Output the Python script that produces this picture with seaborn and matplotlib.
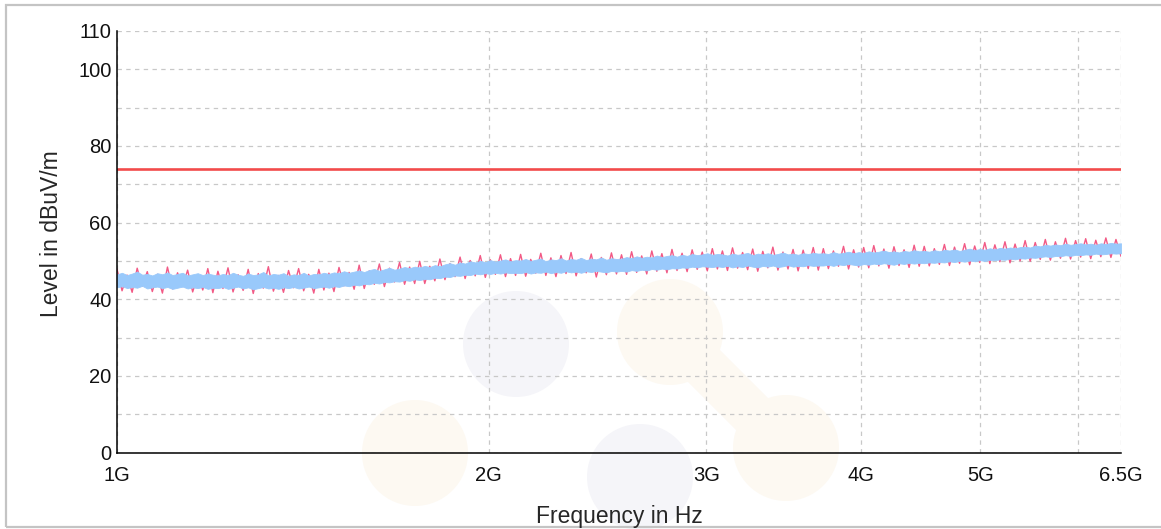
import numpy as np
import pandas as pd
import seaborn as sns
import matplotlib.pyplot as plt
import matplotlib.patches as mpatches
from matplotlib.transforms import IdentityTransform

# Receiver sweep: log spaced bins from 1 GHz to 6.5 GHz
N_BINS = 200
F_START = 1e9
F_STOP = 6.5e9

# Limit line (dBuV/m)
LIMIT_LEVEL = 74

# Average trace (blue band): upper and lower edge per bin
AVG_HI = [
    46.5, 46.9, 46.3, 46.7, 47.2, 46.4, 46.6, 46.2, 46.8, 46.5, 47.0, 46.3, 46.6, 46.9, 46.2, 46.5, 46.8, 46.3, 46.7, 46.4,
    46.2, 46.6, 46.3, 46.9, 46.4, 46.1, 46.7, 46.3, 46.5, 47.1, 46.2, 46.6, 46.4, 46.8, 46.1, 46.5, 46.3, 46.9, 46.2, 46.6,
    46.5, 46.9, 46.6, 47.0, 46.8, 47.3, 46.9, 47.2, 47.5, 47.1, 47.6, 47.9, 47.4, 47.8, 48.2, 47.7, 48.0, 48.4, 48.1, 48.5,
    48.3, 48.7, 48.4, 48.9, 48.6, 49.1, 49.4, 49.0, 49.6, 49.3, 49.9, 49.6, 50.0, 49.7, 50.2, 49.8, 50.1, 50.4, 49.9, 50.2,
    50.1, 50.5, 50.0, 50.3, 50.6, 49.9, 50.4, 50.2, 50.7, 50.1, 50.5, 50.3, 50.8, 50.2, 50.6, 50.4, 50.9, 50.3, 50.7, 50.5,
    50.6, 51.0, 50.7, 51.2, 50.8, 51.1, 50.9, 51.4, 51.0, 51.3, 51.5, 51.1, 51.6, 51.3, 51.8, 51.5, 51.7, 52.0, 51.6, 51.8,
    51.7, 51.4, 51.9, 51.6, 51.8, 52.1, 51.5, 51.9, 51.7, 52.0, 51.6, 51.8, 52.2, 51.7, 51.9, 51.6, 52.0, 51.8, 52.1, 51.9,
    52.0, 51.8, 52.3, 51.9, 52.1, 52.4, 52.0, 52.3, 52.1, 52.5, 52.2, 52.4, 52.7, 52.3, 52.5, 52.2, 52.6, 52.4, 52.8, 52.5,
    52.6, 52.4, 52.8, 52.5, 52.9, 52.7, 53.0, 52.6, 52.9, 53.2, 52.8, 53.1, 52.9, 53.3, 53.0, 53.4, 53.2, 53.5, 53.3, 53.6,
    53.7, 53.5, 54.0, 53.8, 54.2, 54.0, 54.3, 54.1, 54.5, 54.2, 54.4, 54.6, 54.3, 54.5, 54.2, 54.6, 54.4, 54.7, 54.5, 54.6,
]
AVG_LO = [
    43.1, 43.4, 42.9, 43.2, 43.0, 43.5, 42.8, 43.1, 43.3, 42.9, 43.2, 42.7, 43.0, 43.3, 42.8, 43.1, 42.9, 43.2, 42.7, 43.0,
    42.9, 43.2, 42.7, 43.0, 43.3, 42.8, 43.1, 42.6, 42.9, 43.2, 42.8, 43.0, 42.7, 43.1, 42.9, 43.2, 42.8, 43.0, 43.3, 42.9,
    43.1, 43.3, 43.0, 43.4, 43.2, 43.6, 43.4, 43.8, 43.6, 44.0, 43.9, 44.3, 44.1, 44.5, 44.4, 44.7, 44.6, 45.0, 44.8, 45.2,
    45.0, 45.3, 45.2, 45.6, 45.5, 45.9, 45.8, 46.2, 46.1, 46.4, 46.3, 46.7, 46.5, 46.8, 46.6, 46.9, 46.7, 47.0, 46.8, 46.9,
    46.8, 47.1, 46.7, 47.0, 46.9, 47.2, 46.8, 47.1, 46.9, 47.3, 47.0, 47.2, 46.9, 47.3, 47.1, 47.4, 47.2, 47.0, 47.4, 47.2,
    47.4, 47.2, 47.6, 47.4, 47.7, 47.5, 47.9, 47.7, 48.0, 47.8, 48.1, 48.0, 48.3, 48.2, 48.5, 48.3, 48.6, 48.5, 48.4, 48.6,
    48.4, 48.7, 48.3, 48.6, 48.4, 48.8, 48.5, 48.3, 48.7, 48.5, 48.8, 48.4, 48.6, 48.9, 48.5, 48.7, 48.6, 48.9, 48.7, 48.8,
    48.8, 49.0, 48.7, 49.1, 48.9, 49.2, 49.0, 48.8, 49.2, 49.0, 49.3, 49.1, 49.4, 49.2, 49.0, 49.4, 49.2, 49.5, 49.3, 49.5,
    49.4, 49.6, 49.5, 49.7, 49.6, 49.9, 49.7, 50.0, 49.8, 50.1, 49.9, 50.2, 50.0, 50.3, 50.2, 50.4, 50.3, 50.6, 50.4, 50.7,
    50.6, 50.9, 50.8, 51.0, 51.2, 51.0, 51.3, 51.2, 51.5, 51.3, 51.6, 51.5, 51.7, 51.6, 51.9, 51.7, 51.8, 52.0, 51.9, 52.0,
]

# Max peak trace (pink), one reading per bin
PEAK_LEVEL = [
    47.9, 42.2, 46.3, 41.8, 48.1, 43.4, 47.2, 42.0, 46.5, 41.6, 48.4, 42.7, 46.9, 43.3, 47.6, 41.9, 46.2, 42.4, 48.0, 41.7,
    47.3, 42.8, 48.2, 41.9, 46.4, 42.3, 47.8, 41.5, 46.7, 42.9, 48.5, 42.1, 46.2, 41.8, 47.5, 43.0, 48.0, 42.2, 46.5, 41.6,
    47.8, 42.4, 46.8, 42.0, 48.3, 43.5, 47.0, 42.6, 48.9, 42.8, 47.4, 43.9, 49.2, 43.3, 48.1, 44.5, 49.6, 43.9, 48.4, 44.1,
    49.9, 44.1, 48.6, 44.8, 50.5, 45.1, 49.3, 45.9, 51.0, 45.4, 50.1, 46.1, 51.4, 45.7, 50.3, 46.5, 51.6, 45.9, 50.6, 46.2,
    51.7, 46.0, 50.4, 46.8, 52.0, 46.2, 50.8, 45.9, 51.4, 46.7, 52.2, 46.1, 50.6, 46.9, 51.8, 45.8, 50.9, 46.4, 52.1, 46.6,
    51.6, 46.5, 52.4, 47.0, 51.3, 46.6, 52.6, 47.3, 51.9, 46.9, 53.0, 47.5, 52.0, 47.2, 52.9, 47.8, 52.3, 47.4, 53.2, 47.9,
    52.6, 47.5, 53.4, 48.1, 52.2, 47.7, 53.1, 47.3, 52.5, 48.2, 53.6, 47.6, 52.3, 47.9, 53.0, 47.4, 52.8, 48.0, 53.5, 47.6,
    53.2, 48.0, 52.6, 48.6, 53.8, 47.9, 52.9, 48.4, 53.5, 48.2, 54.0, 48.7, 53.1, 48.1, 53.7, 48.8, 52.9, 48.3, 54.1, 48.6,
    53.8, 48.7, 53.2, 49.1, 54.3, 48.8, 53.6, 49.4, 54.5, 49.0, 53.9, 49.6, 54.8, 49.3, 54.2, 49.8, 55.0, 49.5, 54.4, 50.0,
    55.3, 49.9, 54.8, 50.4, 55.6, 50.2, 55.0, 50.7, 55.9, 50.5, 55.3, 51.0, 55.8, 50.6, 55.4, 51.1, 56.0, 50.9, 55.6, 51.2,
]

# Axis ticks
X_TICKS = [1e9, 2e9, 3e9, 4e9, 5e9, 6e9, 6.5e9]
X_TICK_LABELS = ["1G", "2G", "3G", "4G", "5G", "", "6.5G"]
Y_TICKS = list(range(0, 111, 10))
Y_TICK_LABELS = ["0", "", "20", "", "40", "", "60", "", "80", "", "100", "110"]

freq = np.geomspace(F_START, F_STOP, N_BINS)
df = pd.DataFrame({"Frequency": freq, "Peak": PEAK_LEVEL, "AvgHi": AVG_HI, "AvgLo": AVG_LO})
limit_df = pd.DataFrame({"Frequency": [F_START, F_STOP], "Limit": [LIMIT_LEVEL, LIMIT_LEVEL]})

sns.set_style("white")
plt.rcParams["font.family"] = ["Liberation Sans", "DejaVu Sans"]

W, H = 1161, 529
fig = plt.figure(figsize=(W / 100, H / 100), dpi=100)
ax = fig.add_axes([117 / W, 1 - 452.5 / H, (1121 - 117) / W, (452.5 - 31) / H])
ax.set_facecolor("none")

# faint logo watermark behind the plot (pixel positions from the top-left)
wm_lav = "#f5f5f9"
wm_org = "#fdf9f2"
px = IdentityTransform()
for (cx, cy, col) in [(516, 344, wm_lav), (415, 453, wm_org), (640, 477, wm_lav),
                      (670, 332, wm_org), (786, 448, wm_org)]:
    fig.patches.append(mpatches.Circle((cx, H - cy), 53, transform=px,
                                       facecolor=col, edgecolor="none", zorder=-5))
fig.patches.append(mpatches.Polygon([(686, H - 316), (802, H - 432), (770, H - 464), (654, H - 348)],
                                    closed=True, transform=px, facecolor=wm_org,
                                    edgecolor="none", zorder=-5))
# figure frame
fig.patches.append(mpatches.Rectangle((6, 2), W + 10, H - 7, transform=px, fill=False,
                                      edgecolor="#c4c4c4", linewidth=1.6, zorder=-4))

sns.lineplot(data=df, x="Frequency", y="Peak", color="#f25a86", linewidth=1.0, ax=ax)
ax.fill_between(df["Frequency"], df["AvgLo"], df["AvgHi"], color="#99c9fb",
                edgecolor="#99c9fb", linewidth=0.6, zorder=3)
sns.lineplot(data=limit_df, x="Frequency", y="Limit", color="#f24b4b", linewidth=1.9, ax=ax)

ax.set_xscale("log")
ax.set_xlim(F_START, F_STOP)
ax.set_ylim(0, 110)
ax.set_xticks(X_TICKS)
ax.set_xticklabels(X_TICK_LABELS)
ax.minorticks_off()
ax.set_yticks(Y_TICKS)
ax.set_yticklabels(Y_TICK_LABELS)

ax.grid(True, color="#c8c8c8", linestyle=(0, (3.5, 3.5)), linewidth=0.9)
for side in ["top", "right"]:
    ax.spines[side].set_visible(False)
for side in ["left", "bottom"]:
    ax.spines[side].set_color("black")
    ax.spines[side].set_linewidth(1.1)
    ax.spines[side].set_zorder(4)

ax.tick_params(axis="both", direction="inout", length=8, width=1.1, color="black",
               labelsize=14.5, labelcolor="#111111")
ax.tick_params(axis="x", pad=6)
ax.tick_params(axis="y", pad=0)

ax.set_xlabel("Frequency in Hz", fontsize=16.5, labelpad=14)
ax.set_ylabel("Level in dBuV/m", fontsize=16.5)
ax.yaxis.set_label_coords(-0.054, 0.52)

fig.savefig("out.png", dpi=100)
